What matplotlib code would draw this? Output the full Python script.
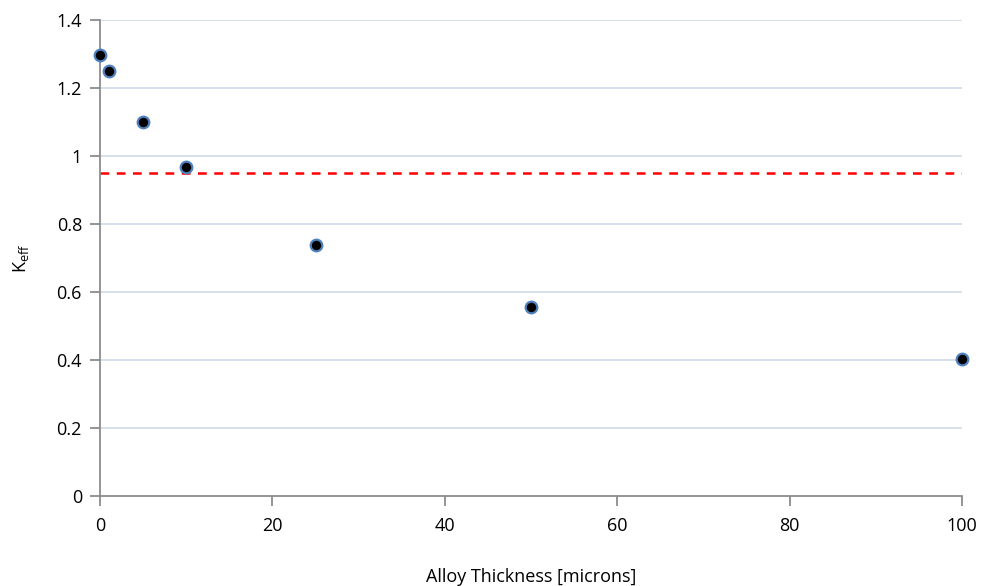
import matplotlib
matplotlib.use("Agg")
import matplotlib.pyplot as plt

# Data
thickness = [0, 1, 5, 10, 25, 50, 100]
keff = [1.297, 1.25, 1.10, 0.967, 0.738, 0.556, 0.403]
keff_limit = 0.95

y_ticks = [0, 0.2, 0.4, 0.6, 0.8, 1.0, 1.2, 1.4]
y_tick_labels = ["0", "0.2", "0.4", "0.6", "0.8", "1", "1.2", "1.4"]
x_ticks = [0, 20, 40, 60, 80, 100]

plt.rcParams["font.family"] = ["Open Sans", "DejaVu Sans"]

fig = plt.figure(figsize=(9.84, 5.86), dpi=100)
ax = fig.add_axes([100 / 984, 1 - 496 / 586, (962 - 100) / 984, (496 - 20) / 586])

# Horizontal grid lines
for yv in y_ticks[1:]:
    ax.axhline(yv, color="#cfdbea", linewidth=1.2, zorder=1)

ax.axhline(keff_limit, color="#ff0000", linestyle=(0, (3.5, 3)), linewidth=1.8, zorder=2)

ax.scatter(thickness, keff, s=70, color="black", edgecolor="#4f81bd",
           linewidth=1.6, zorder=3, clip_on=False)

ax.set_xlim(0, 100)
ax.set_ylim(0, 1.4)
ax.set_xticks(x_ticks)
ax.set_yticks(y_ticks)
ax.set_yticklabels(y_tick_labels)

for side in ["top", "right"]:
    ax.spines[side].set_visible(False)
for side in ["left", "bottom"]:
    ax.spines[side].set_color("#8c8c8c")
    ax.spines[side].set_linewidth(1.3)

ax.tick_params(axis="both", direction="out", length=7, width=1.3,
               color="#8c8c8c", labelsize=13, pad=6)
ax.tick_params(axis="x", pad=8)

ax.set_xlabel("Alloy Thickness [microns]", fontsize=13, labelpad=24)
ax.set_ylabel("K$_{\\mathregular{eff}}$", fontsize=13, labelpad=18)

fig.savefig("out.png", dpi=100)
